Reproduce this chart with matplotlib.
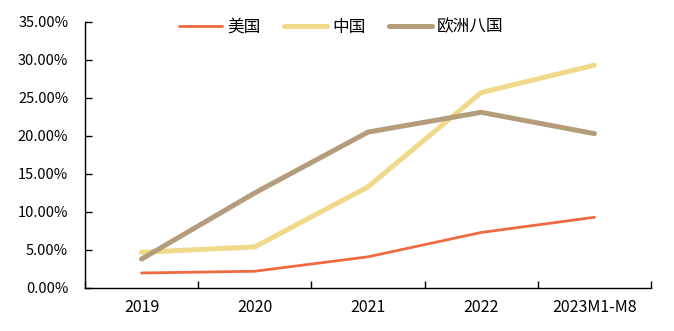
import numpy as np
import matplotlib.pyplot as plt
from matplotlib.ticker import FuncFormatter, FixedLocator

plt.rcParams['font.family'] = ['Noto Sans CJK SC', 'DejaVu Sans']

years = ['2019', '2020', '2021', '2022', '2023M1-M8']
usa = [1.97, 2.2, 4.1, 7.3, 9.3]
china = [4.7, 5.4, 13.3, 25.7, 29.3]
europe8 = [3.8, 12.5, 20.5, 23.1, 20.3]

names = ['美国', '中国', '欧洲八国']
colors = ['#EE6A42', '#F0D98A', '#B39D7B']

fig = plt.figure(figsize=(6.74, 3.31), dpi=100)
ax = fig.add_axes([0.126, 0.130, 0.840, 0.804])

x = np.arange(len(years))
ax.plot(x, usa, color=colors[0], lw=2.0, label=names[0], solid_capstyle='round')
ax.plot(x, china, color=colors[1], lw=3.6, label=names[1], solid_capstyle='round')
ax.plot(x, europe8, color=colors[2], lw=3.6, label=names[2], solid_capstyle='round')

ax.set_xlim(-0.5, len(years) - 0.5)
ax.set_ylim(0, 35)
ax.set_yticks(np.arange(0, 36, 5))
ax.yaxis.set_major_formatter(FuncFormatter(lambda v, p: f'{v:.2f}%'))
ax.set_xticks(x)
ax.set_xticklabels(years)
ax.xaxis.set_minor_locator(FixedLocator(np.arange(-0.5, len(years), 1.0)))
ax.tick_params(axis='x', which='major', length=0, pad=8, labelsize=11.5)
ax.tick_params(axis='x', which='minor', direction='in', length=5, width=1)
ax.tick_params(axis='y', direction='in', length=5, width=1, labelsize=10.5, pad=12)

for s in ['top', 'right']:
    ax.spines[s].set_visible(False)
for s in ['left', 'bottom']:
    ax.spines[s].set_linewidth(1)

fig.legend(loc='center', bbox_to_anchor=(0.506, 0.918), ncol=3, frameon=False,
           fontsize=12, handlelength=2.6, columnspacing=1.4, handletextpad=0.3)

fig.savefig('out.png', dpi=100)
